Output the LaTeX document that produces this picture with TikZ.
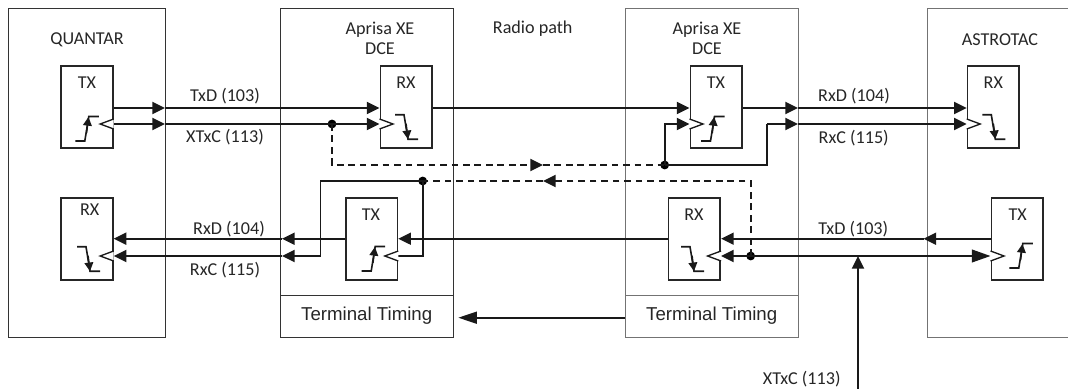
\documentclass[tikz,border=0pt]{standalone}
\usepackage{fontspec}
\setmainfont{Carlito}
\newfontfamily\arialfont{Liberation Sans}
\usetikzlibrary{arrows.meta}
\tikzset{
  outerbox/.style={draw=#1,line width=0.65pt,inner sep=0pt},
  blockbox/.style={draw=black!85,line width=1.2pt,fill=white,inner sep=0pt,minimum width=38.8pt,minimum height=61.5pt},
  conn/.style={line width=1.4pt,draw=black!90},
  dashconn/.style={conn,dash pattern=on 5pt off 3.6pt},
  tipS/.tip={Triangle[length=9.5pt,width=9pt]},
  tipL/.tip={Triangle[length=14pt,width=9.5pt]},
  dot/.style={circle,fill=black,inner sep=0pt,minimum size=6.6pt},
  lab/.style={inner sep=0pt,font=\fontsize{13.6}{16}\selectfont,text=black!85},
  tlab/.style={lab,font=\arialfont\fontsize{14}{16}\selectfont},
  sig/.style={line width=1.2pt,draw=black!90},
  pics/rise/.style={code={
    \draw[sig] (0,0)--(9.5,0)--(13.5,-24.5)--(23.5,-24.5);
    \draw[sig,-{Triangle[length=6.5pt,width=6.5pt]}] (11.2,-8)--(13.2,-24);
  }},
  pics/fall/.style={code={
    \draw[sig] (0,0)--(9,0)--(13,24.5)--(23,24.5);
    \draw[sig,-{Triangle[length=6.5pt,width=6.5pt]}] (11,9)--(13,24.5);
  }},
  pics/openleft/.style={code={
    \draw[line width=1pt,draw=black!90,fill=white] (0,-5)--(-13.5,0)--(0,5);
  }},
  pics/openright/.style={code={
    \draw[line width=1pt,draw=black!90,fill=white] (0,-5)--(13.5,0)--(0,5);
  }},
}
\begin{document}
\begin{tikzpicture}[x=0.75pt,y=-0.75pt]
\useasboundingbox (0,0) rectangle (1068,389);
% rails and columns
\coordinate (r1) at (0,108);
\coordinate (r2) at (0,124);
\coordinate (r3) at (0,238.7);
\coordinate (r4) at (0,256);
\coordinate (r5) at (0,165);
\coordinate (r6) at (0,181);
\coordinate (ca) at (165,0);
\coordinate (cb) at (282,0);
\coordinate (cc) at (320.5,0);
\coordinate (cd) at (543,0);
\coordinate (ce) at (767,0);
\coordinate (cf) at (798,0);
\coordinate (cg) at (923.5,0);
\coordinate (ch) at (858,0);
% outer boxes
\node[outerbox=black!80,minimum width=117.75pt,minimum height=246.4pt] (quantar) at (87,172.75) {};
\node[outerbox=black!80,minimum width=129.9pt,minimum height=246.4pt] (dceA) at (367.1,172.75) {};
\node[outerbox=black!55,minimum width=129.75pt,minimum height=246.4pt] (dceB) at (711.5,172.75) {};
\node[outerbox=black!80,minimum width=129.9pt,minimum height=31pt] (ttA) at (367.1,316.35) {};
\node[outerbox=black!55,minimum width=129.75pt,minimum height=31pt] (ttB) at (711.5,316.35) {};
\coordinate (astA) at (1068,8.5);
\coordinate (astB) at (927.7,8.5);
\coordinate (astC) at (927.7,337);
\coordinate (astD) at (1068,337);
\draw[black!55,line width=0.75pt] (astA)--(astB)--(astC)--(astD);
% connectors
\node[dot] (jA) at (332,124) {};
\node[dot] (jB) at (664.7,165) {};
\node[dot] (jC) at (422.7,181) {};
\node[dot] (jD) at (750.7,256) {};
\coordinate (busfoot) at (858,389);
\coordinate (ttTip) at (458.3,317.7);
% blocks
\node[blockbox] (qtx) at (87,107) {};
\node[blockbox] (qrx) at (87,239) {};
\node[blockbox] (arx) at (406.2,107) {};
\node[blockbox] (atx) at (371.6,239) {};
\node[blockbox] (btx) at (716.2,107) {};
\node[blockbox] (brx) at (694.4,239) {};
\node[blockbox] (crx) at (993.4,107) {};
\node[blockbox] (ctx) at (1017.2,239) {};
% top rail
\draw[conn,-tipS] (qtx.east|-r1)--(ca|-r1);
\draw[conn,-tipS] (ca|-r1)--(arx.west|-r1);
\draw[conn,-tipS] (qtx.east|-r2)--(ca|-r2);
\draw[conn,-tipS] (ca|-r2)--(arx.west|-r2);
\draw[conn,-tipS] (arx.east|-r1)--(btx.west|-r1);
\draw[conn,-tipS] (btx.east|-r1)--(cf|-r1);
\draw[conn,-tipS] (cf|-r1)--(crx.west|-r1);
\draw[conn,-tipS] (jB.center)|-(btx.west|-r2);
\draw[conn] (jB.center)-|(ce|-r2);
\draw[conn,-tipS] (ce|-r2)--(cf|-r2);
\draw[conn,-tipS] (cf|-r2)--(crx.west|-r2);
% dashed
\draw[dashconn,-tipS] (jA.center)|-(cd|-r5);
\draw[dashconn] (cd|-r5)--(jB.center);
\draw[dashconn,-tipS] (jD.center)|-(cd|-r6);
\draw[dashconn] (cd|-r6)--(jC.center);
% lower rails
\draw[conn,-tipS] (ctx.west|-r3)--(cg|-r3);
\draw[conn,-tipS] (cg|-r3)--(brx.east|-r3);
\draw[conn,-tipS] (brx.west|-r3)--(atx.east|-r3);
\draw[conn,-tipS] (atx.west|-r3)--(cb|-r3);
\draw[conn,-tipS] (cb|-r3)--(qrx.east|-r3);
\draw[conn,-tipS] (jD.center)--(brx.east|-r4);
\draw[conn,-tipL] (jD.center)--(ctx.west|-r4);
\draw[conn,-tipS] (busfoot)--(ch|-r4);
\draw[conn] (jC.center)-|(cc|-r4);
\draw[conn,-tipS] (cc|-r4)--(cb|-r4);
\draw[conn,-tipS] (cb|-r4)--(qrx.east|-r4);
\draw[conn] (jC.center)|-(atx.east|-r4);
\draw[conn,-{Triangle[length=14pt,width=9pt]}] (ttB.west|-ttTip)--(ttTip);
% clock inputs and edge glyphs
\pic at (qtx.east|-r2) {openleft};
\pic at (qrx.east|-r4) {openleft};
\pic at (atx.east|-r4) {openleft};
\pic at (brx.east|-r4) {openleft};
\pic at (arx.west|-r2) {openright};
\pic at (btx.west|-r2) {openright};
\pic at (crx.west|-r2) {openright};
\pic at (ctx.west|-r4) {openright};
\pic at (75.3,141) {rise};
\pic at (361.7,271) {rise};
\pic at (701,141) {rise};
\pic at (1009.3,268) {rise};
\pic at (77,246.7) {fall};
\pic at (395,114.7) {fall};
\pic at (681,246.7) {fall};
\pic at (982.3,114.7) {fall};
% labels
\node[lab] (t1) at (87,39.5) {QUANTAR};
\node[lab] (t2) at (380,29.5) {Aprisa XE};
\node[lab] (t3) at (380,48.5) {DCE};
\node[lab] (t4) at (87,82.5) {TX};
\node[lab] (t5) at (406,82.5) {RX};
\node[lab] (t6) at (225,96.5) {TxD (103)};
\node[lab] (t7) at (225,137.5) {XTxC (113)};
\node[lab] (t8) at (532.7,28.5) {Radio path};
\node[lab] (t9) at (707,29.5) {Aprisa XE};
\node[lab] (t10) at (707,48.5) {DCE};
\node[lab] (t11) at (716,82.5) {TX};
\node[lab] (t12) at (854,96.5) {RxD (104)};
\node[lab] (t13) at (853.7,138) {RxC (115)};
\node[lab] (t14) at (1000,39.5) {ASTROTAC};
\node[lab] (t15) at (993.3,82.5) {RX};
\node[lab] (t16) at (89.7,209.5) {RX};
\node[lab] (t17) at (371,214.7) {TX};
\node[lab] (t18) at (229,228.7) {RxD (104)};
\node[lab] (t19) at (225,269.7) {RxC (115)};
\node[tlab] (t20) at (366.7,316) {Terminal Timing};
\node[lab] (t21) at (694,214.7) {RX};
\node[tlab] (t22) at (711.7,316) {Terminal Timing};
\node[lab] (t23) at (853.3,228.7) {TxD (103)};
\node[lab] (t24) at (1017.7,214.7) {TX};
\node[lab] (t25) at (801.7,378.7) {XTxC (113)};
\end{tikzpicture}
\end{document}
